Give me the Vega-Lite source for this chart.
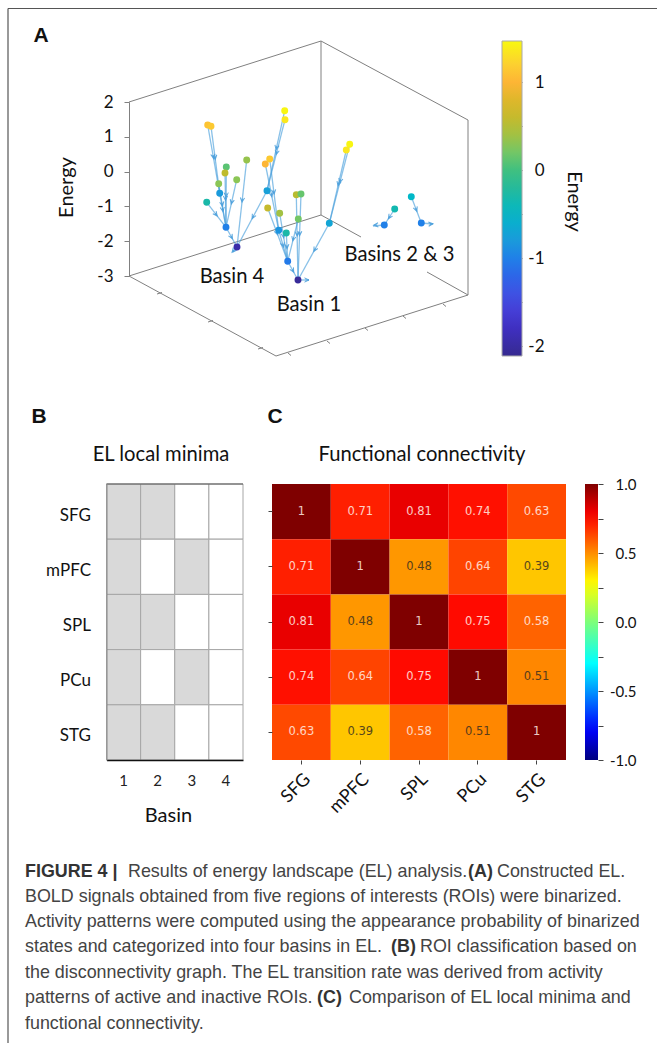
{
"$schema":"https://vega.github.io/schema/vega-lite/v6.json",
"width":657,"height":1043,"autosize":{"type":"none"},"padding":0,"background":"white",
"config":{"view":{"stroke":null},"font":"Lato"},
"datasets":{
"minima":[
{"roi":"SFG","basin":"1","active":"yes"},{"roi":"SFG","basin":"2","active":"yes"},{"roi":"SFG","basin":"3","active":"no"},{"roi":"SFG","basin":"4","active":"no"},
{"roi":"mPFC","basin":"1","active":"yes"},{"roi":"mPFC","basin":"2","active":"no"},{"roi":"mPFC","basin":"3","active":"yes"},{"roi":"mPFC","basin":"4","active":"no"},
{"roi":"SPL","basin":"1","active":"yes"},{"roi":"SPL","basin":"2","active":"yes"},{"roi":"SPL","basin":"3","active":"no"},{"roi":"SPL","basin":"4","active":"no"},
{"roi":"PCu","basin":"1","active":"yes"},{"roi":"PCu","basin":"2","active":"no"},{"roi":"PCu","basin":"3","active":"yes"},{"roi":"PCu","basin":"4","active":"no"},
{"roi":"STG","basin":"1","active":"yes"},{"roi":"STG","basin":"2","active":"yes"},{"roi":"STG","basin":"3","active":"no"},{"roi":"STG","basin":"4","active":"no"}],
"fc":[
{"a":"SFG","b":"SFG","r":1},{"a":"SFG","b":"mPFC","r":0.71},{"a":"SFG","b":"SPL","r":0.81},{"a":"SFG","b":"PCu","r":0.74},{"a":"SFG","b":"STG","r":0.63},
{"a":"mPFC","b":"SFG","r":0.71},{"a":"mPFC","b":"mPFC","r":1},{"a":"mPFC","b":"SPL","r":0.48},{"a":"mPFC","b":"PCu","r":0.64},{"a":"mPFC","b":"STG","r":0.39},
{"a":"SPL","b":"SFG","r":0.81},{"a":"SPL","b":"mPFC","r":0.48},{"a":"SPL","b":"SPL","r":1},{"a":"SPL","b":"PCu","r":0.75},{"a":"SPL","b":"STG","r":0.58},
{"a":"PCu","b":"SFG","r":0.74},{"a":"PCu","b":"mPFC","r":0.64},{"a":"PCu","b":"SPL","r":0.75},{"a":"PCu","b":"PCu","r":1},{"a":"PCu","b":"STG","r":0.51},
{"a":"STG","b":"SFG","r":0.63},{"a":"STG","b":"mPFC","r":0.39},{"a":"STG","b":"SPL","r":0.58},{"a":"STG","b":"PCu","r":0.51},{"a":"STG","b":"STG","r":1}],
"nodes":[
{"x":2.077,"y":1.25,"energy":1.1},{"x":2.11,"y":1.263,"energy":1.15},{"x":2.263,"y":1.67,"energy":0.1},{"x":2.25,"y":1.73,"energy":0.55},{"x":2.187,"y":1.837,"energy":0.3},{"x":2.197,"y":1.933,"energy":-0.8},{"x":2.067,"y":2.023,"energy":-0.3},{"x":2.467,"y":1.6,"energy":0.35},{"x":2.367,"y":1.797,"energy":0.3},{"x":2.26,"y":2.273,"energy":-1},{"x":2.37,"y":2.47,"energy":-1.95},{"x":2.67,"y":1.907,"energy":-0.75},{"x":2.847,"y":1.107,"energy":1.45},{"x":2.85,"y":1.197,"energy":1.35},
{"x":2.653,"y":1.64,"energy":1.0},{"x":2.697,"y":1.59,"energy":1.15},{"x":2.677,"y":2.08,"energy":0.6},{"x":2.797,"y":2.133,"energy":0.4},{"x":2.963,"y":1.947,"energy":0.5},{"x":3.01,"y":1.94,"energy":0.15},{"x":2.983,"y":2.19,"energy":0.2},{"x":2.863,"y":2.33,"energy":-0.3},{"x":2.787,"y":2.303,"energy":-0.85},{"x":2.877,"y":2.613,"energy":-1.05},{"x":2.98,"y":2.8,"energy":-2.05},{"x":3.293,"y":2.233,"energy":-0.7},{"x":3.497,"y":1.443,"energy":1.45},{"x":3.463,"y":1.5,"energy":1.35},
{"x":3.947,"y":2.09,"energy":-0.35},{"x":3.843,"y":2.25,"energy":-1},{"x":4.113,"y":1.967,"energy":-0.5},{"x":4.213,"y":2.23,"energy":-1}],
"edges":[
{"x":2.077,"y":1.25,"x2":2.197,"y2":1.933,"hx":2.131,"hy":1.557,"dir":170},
{"x":2.11,"y":1.263,"x2":2.197,"y2":1.933,"hx":2.149,"hy":1.565,"dir":173},
{"x":2.197,"y":1.933,"x2":2.26,"y2":2.273,"hx":2.225,"hy":2.086,"dir":170},
{"x":2.263,"y":1.67,"x2":2.26,"y2":2.273,"hx":2.262,"hy":1.941,"dir":180},
{"x":2.25,"y":1.73,"x2":2.26,"y2":2.273,"hx":2.255,"hy":1.974,"dir":179},
{"x":2.187,"y":1.837,"x2":2.26,"y2":2.273,"hx":2.22,"hy":2.033,"dir":170},
{"x":2.367,"y":1.797,"x2":2.26,"y2":2.273,"hx":2.319,"hy":2.011,"dir":193},
{"x":2.067,"y":2.023,"x2":2.26,"y2":2.273,"hx":2.154,"hy":2.136,"dir":142},
{"x":2.26,"y":2.273,"x2":2.37,"y2":2.47,"hx":2.31,"hy":2.362,"dir":151},
{"x":2.467,"y":1.6,"x2":2.37,"y2":2.47,"hx":2.423,"hy":1.992,"dir":186},
{"x":2.847,"y":1.107,"x2":2.67,"y2":1.907,"hx":2.767,"hy":1.467,"dir":192},
{"x":2.85,"y":1.197,"x2":2.67,"y2":1.907,"hx":2.769,"hy":1.517,"dir":194},
{"x":2.67,"y":1.907,"x2":2.37,"y2":2.47,"hx":2.535,"hy":2.16,"dir":208},
{"x":2.653,"y":1.64,"x2":2.787,"y2":2.303,"hx":2.713,"hy":1.938,"dir":169},
{"x":2.697,"y":1.59,"x2":2.787,"y2":2.303,"hx":2.738,"hy":1.911,"dir":173},
{"x":2.677,"y":2.08,"x2":2.877,"y2":2.613,"hx":2.767,"hy":2.32,"dir":159},
{"x":2.797,"y":2.133,"x2":2.877,"y2":2.613,"hx":2.833,"hy":2.349,"dir":171},
{"x":2.787,"y":2.303,"x2":2.877,"y2":2.613,"hx":2.828,"hy":2.443,"dir":164},
{"x":2.863,"y":2.33,"x2":2.877,"y2":2.613,"hx":2.869,"hy":2.457,"dir":177},
{"x":2.983,"y":2.19,"x2":2.877,"y2":2.613,"hx":2.935,"hy":2.38,"dir":194},
{"x":2.877,"y":2.613,"x2":2.98,"y2":2.8,"hx":2.923,"hy":2.697,"dir":151},
{"x":2.963,"y":1.947,"x2":2.98,"y2":2.8,"hx":2.971,"hy":2.331,"dir":179},
{"x":3.01,"y":1.94,"x2":2.98,"y2":2.8,"hx":2.997,"hy":2.327,"dir":182},
{"x":3.293,"y":2.233,"x2":2.98,"y2":2.8,"hx":3.152,"hy":2.488,"dir":209},
{"x":3.497,"y":1.443,"x2":3.293,"y2":2.233,"hx":3.405,"hy":1.799,"dir":194},
{"x":3.463,"y":1.5,"x2":3.293,"y2":2.233,"hx":3.387,"hy":1.83,"dir":193},
{"x":3.947,"y":2.09,"x2":3.843,"y2":2.25,"hx":3.9,"hy":2.162,"dir":213},
{"x":4.113,"y":1.967,"x2":4.213,"y2":2.23,"hx":4.158,"hy":2.085,"dir":159},
{"x":3.843,"y":2.25,"x2":3.73,"y2":2.26,"hx":3.767,"hy":2.25,"dir":265},
{"x":4.213,"y":2.23,"x2":4.33,"y2":2.24,"hx":4.3,"hy":2.24,"dir":85},
{"x":2.98,"y":2.8,"x2":3.09,"y2":2.8,"hx":3.06,"hy":2.8,"dir":90},
{"x":2.37,"y":2.47,"x2":2.33,"y2":2.52,"hx":2.34,"hy":2.5,"dir":220}],
"box":[
{"x":1.29,"y":1.02,"x2":3.21,"y2":0.41},{"x":3.21,"y":0.41,"x2":4.68,"y2":1.2},{"x":3.21,"y":0.41,"x2":3.21,"y2":2.15},{"x":4.68,"y":1.2,"x2":4.68,"y2":2.95},{"x":1.29,"y":2.76,"x2":3.21,"y2":2.15},{"x":3.21,"y":2.15,"x2":3.61,"y2":2.37},{"x":4.27,"y":2.72,"x2":4.68,"y2":2.95},{"x":1.29,"y":2.76,"x2":2.76,"y2":3.56},{"x":2.76,"y":3.56,"x2":4.68,"y2":2.95},
{"x":1.57,"y":2.94,"x2":1.62,"y2":2.925},{"x":2.08,"y":3.22,"x2":2.13,"y2":3.205},{"x":2.58,"y":3.49,"x2":2.63,"y2":3.475},
{"x":4.43,"y":3.04,"x2":4.46,"y2":3.065},{"x":4.03,"y":3.16,"x2":4.06,"y2":3.185},{"x":3.65,"y":3.28,"x2":3.68,"y2":3.305},{"x":3.27,"y":3.41,"x2":3.3,"y2":3.435},{"x":2.88,"y":3.53,"x2":2.91,"y2":3.555}],
"frame":[{"x":0.08,"y":0.085,"x2":6.57,"y2":0.085},{"x":0.08,"y":0.085,"x2":0.08,"y2":10.43},{"x":1.065,"y":4.84,"x2":2.43,"y2":4.84}],
"letters":[{"x":0.41,"y":0.36,"t":"A"},{"x":0.39,"y":4.17,"t":"B"},{"x":2.75,"y":4.17,"t":"C"}],
"labels":[{"x":2.32,"y":2.77,"t":"Basin 4"},{"x":3.09,"y":3.05,"t":"Basin 1"},{"x":3.995,"y":2.55,"t":"Basins 2 & 3"},{"x":1.61,"y":4.55,"t":"EL local minima"},{"x":4.22,"y":4.55,"t":"Functional connectivity"}],
"capReg":[
{"x":1.28,"y":8.72,"t":"Results of energy landscape (EL) analysis."},{"x":4.97,"y":8.72,"t":"Constructed EL."},
{"x":0.25,"y":8.97,"t":"BOLD signals obtained from five regions of interests (ROIs) were binarized."},
{"x":0.25,"y":9.22,"t":"Activity patterns were computed using the appearance probability of binarized"},
{"x":0.25,"y":9.47,"t":"states and categorized into four basins in EL."},{"x":4.2,"y":9.47,"t":"ROI classification based on"},
{"x":0.25,"y":9.73,"t":"the disconnectivity graph. The EL transition rate was derived from activity"},
{"x":0.25,"y":9.98,"t":"patterns of active and inactive ROIs."},{"x":3.49,"y":9.98,"t":"Comparison of EL local minima and"},
{"x":0.25,"y":10.24,"t":"functional connectivity."}],
"capBold":[{"x":0.25,"y":8.72,"t":"FIGURE 4 |"},{"x":4.68,"y":8.72,"t":"(A)"},{"x":3.91,"y":9.47,"t":"(B)"},{"x":3.17,"y":9.98,"t":"(C)"}],
"energyTicks":[{"v":-3},{"v":-2},{"v":-1},{"v":0},{"v":1},{"v":2}],
"cbTicks":[{"v":-1},{"v":1}]
},
"layer":[
{"data":{"name":"minima"},"mark":{"type":"rect","stroke":"#a6a6a6","strokeWidth":1},
 "encoding":{
  "x":{"field":"basin","type":"nominal","sort":["1","2","3","4"],"scale":{"domain":["1","2","3","4"],"range":[106.5,243],"paddingInner":0,"paddingOuter":0},
   "axis":{"orient":"bottom","offset":-283,"labelAngle":0,"ticks":false,"domainColor":"#111","domainWidth":1.5,"labelPadding":13,"labelFontSize":15,"labelColor":"#222","title":"Basin","titleFontSize":20,"titleFontWeight":"normal","titleColor":"#111","titleX":168,"titleY":55,"titleBaseline":"middle"}},
  "y":{"field":"roi","type":"nominal","sort":["SFG","mPFC","SPL","PCu","STG"],"scale":{"domain":["SFG","mPFC","SPL","PCu","STG"],"range":[484,760],"paddingInner":0,"paddingOuter":0},
   "axis":{"orient":"left","offset":-106.5,"ticks":false,"domainColor":"#888","labelPadding":16,"labelOffset":4,"labelFontSize":17,"labelColor":"#111","title":null}},
  "fill":{"field":"active","type":"nominal","scale":{"domain":["yes","no"],"range":["#d9d9d9","#ffffff"]},"legend":null}}},
{"data":{"name":"fc"},
 "encoding":{
  "x":{"field":"b","type":"nominal","sort":["SFG","mPFC","SPL","PCu","STG"],"scale":{"domain":["SFG","mPFC","SPL","PCu","STG"],"range":[272,566],"paddingInner":0,"paddingOuter":0},
   "axis":{"orient":"bottom","offset":-283,"domain":false,"tickSize":4,"tickColor":"#444","labelAngle":-45,"labelAlign":"right","labelBaseline":"top","labelPadding":6,"labelFontSize":18,"labelColor":"#111","title":null}},
  "y":{"field":"a","type":"nominal","sort":["SFG","mPFC","SPL","PCu","STG"],"scale":{"domain":["SFG","mPFC","SPL","PCu","STG"],"range":[484,760],"paddingInner":0,"paddingOuter":0},
   "axis":{"orient":"left","offset":-272,"domain":false,"tickSize":4,"tickColor":"#444","labels":false,"title":null}}},
 "layer":[
  {"mark":{"type":"rect"},"encoding":{"fill":{"field":"r","type":"quantitative","scale":{"interpolate":"rgb","domain":[-1,-0.78,-0.3,0,0.28,0.77,1],"range":["#00007f","#0000ff","#00ffff","#7dff7a","#ffff00","#ff0000","#7f0000"]},
    "legend":{"orient":"none","legendX":585,"legendY":484,"gradientLength":276,"gradientThickness":13,"title":null,"labelExpr":"''","gradientStrokeWidth":0,"padding":0}}}},
  {"mark":{"type":"text","font":"DejaVu Sans","fontSize":11.5,"opacity":0.85},"encoding":{"text":{"field":"r","type":"quantitative"},"color":{"condition":{"test":"datum.r<0.55","value":"#3a3020"},"value":"#ffeee6"}}}
 ]},
{"data":{"name":"cbTicks"},"mark":{"type":"rule","opacity":0},
 "encoding":{"y":{"field":"v","type":"quantitative","scale":{"domain":[-1,1],"range":[760,484],"nice":false,"zero":false},
  "axis":{"orient":"right","offset":-59,"domain":false,"tickSize":5,"tickColor":"#444","values":[-1,-0.75,-0.5,-0.25,0,0.25,0.5,0.75,1],"labelExpr":"datum.value*2%1==0?replace(format(datum.value,'.1f'),'\u2212','-'):''","labelAlign":"right","labelPadding":33,"labelFontSize":15,"labelColor":"#111","labelBound":false,"labelFlush":false,"labelOverlap":false,"grid":false,"title":null}}}},
{"data":{"name":"cbTicks"},"mark":{"type":"rule","opacity":0},
 "encoding":{"y":{"field":"v","type":"quantitative","scale":{"domain":[-2.11,1.466],"range":[356,41],"nice":false,"zero":false},
  "axis":{"orient":"right","offset":-135,"domain":false,"tickSize":-4,"tickColor":"#666","values":[-2,-1.5,-1,-0.5,0,0.5,1],"labelExpr":"datum.value%1==0?''+datum.value:''","labelAlign":"right","labelPadding":26,"labelFontSize":17,"labelColor":"#111","labelBound":false,"labelFlush":false,"labelOverlap":false,"grid":false,"title":"Energy","titleAngle":90,"titleFontSize":20,"titleFontWeight":"normal","titleColor":"#111","titleX":51,"titleY":201,"titleBaseline":"middle"}}}},
{"data":{"name":"energyTicks"},"mark":{"type":"rule","opacity":0},
 "encoding":{"y":{"field":"v","type":"quantitative","scale":{"domain":[-3,2],"range":[276,102],"nice":false,"zero":false},
  "axis":{"orient":"left","offset":-129,"domainColor":"#808080","tickColor":"#808080","tickSize":5,"values":[-3,-2,-1,0,1,2],"labelExpr":"''+datum.value","labelPadding":11,"labelFontSize":17,"labelColor":"#111","labelBound":false,"labelFlush":false,"grid":false,"title":"Energy","titleFontSize":20,"titleFontWeight":"normal","titleColor":"#111","titleX":-63,"titleY":187,"titleBaseline":"middle"}}}},
{"encoding":{
  "x":{"field":"x","type":"quantitative","scale":{"domain":[0,6.57],"range":[0,657],"nice":false,"zero":false},"axis":null},
  "y":{"field":"y","type":"quantitative","scale":{"domain":[0,10.43],"range":[0,1043],"nice":false,"zero":false},"axis":null}},
 "layer":[
  {"data":{"name":"frame"},"mark":{"type":"rule","color":"#555555","strokeWidth":1.2},"encoding":{"x2":{"field":"x2"},"y2":{"field":"y2"}}},
  {"data":{"name":"box"},"mark":{"type":"rule","color":"#808080","strokeWidth":1},"encoding":{"x2":{"field":"x2"},"y2":{"field":"y2"}}},
  {"data":{"name":"edges"},"mark":{"type":"rule","color":"#4a9fdc","opacity":0.65,"strokeWidth":1.3},"encoding":{"x2":{"field":"x2"},"y2":{"field":"y2"}}},
  {"data":{"name":"edges"},"mark":{"type":"point","filled":false,"shape":"M-0.7,0.5L0,-1L0.7,0.5M0,-1L0,0.2","stroke":"#4a9fdc","strokeWidth":1,"size":36,"opacity":0.9},"encoding":{"x":{"field":"hx","type":"quantitative"},"y":{"field":"hy","type":"quantitative"},"angle":{"field":"dir","type":"quantitative","scale":null}}},
  {"data":{"name":"nodes"},"mark":{"type":"circle","size":48,"opacity":1},"encoding":{"color":{"field":"energy","type":"quantitative","scale":{"interpolate":"rgb","domain":[-2.11,-1.75,-1.5,-1.25,-1,-0.75,-0.5,-0.25,0,0.25,0.5,0.75,1,1.2,1.466],"range":["#362a90","#4030c8","#4848e0","#3060e8","#2080e8","#18a0d8","#00b8c8","#20b8a0","#40c080","#80c860","#b8bc30","#d8b828","#fdb535","#fcd030","#f8f810"]},
    "legend":{"orient":"none","legendX":502,"legendY":41,"gradientLength":315,"gradientThickness":20,"title":null,"labelExpr":"''","gradientStrokeColor":"#aaaaaa","gradientStrokeWidth":1,"padding":0}}}},
  {"data":{"name":"letters"},"mark":{"type":"text","font":"Liberation Sans","fontWeight":"bold","fontSize":21,"align":"center","baseline":"middle","color":"#111"},"encoding":{"text":{"field":"t"}}},
  {"data":{"name":"labels"},"mark":{"type":"text","fontSize":20.2,"align":"center","baseline":"middle","color":"#111"},"encoding":{"text":{"field":"t"}}},
  {"data":{"name":"capReg"},"mark":{"type":"text","font":"Liberation Sans","fontSize":17.9,"align":"left","baseline":"middle","color":"#444444"},"encoding":{"text":{"field":"t"}}},
  {"data":{"name":"capBold"},"mark":{"type":"text","font":"Liberation Sans","fontWeight":"bold","fontSize":17.9,"align":"left","baseline":"middle","color":"#333333"},"encoding":{"text":{"field":"t"}}}
 ]}
],
"resolve":{"scale":{"x":"independent","y":"independent","color":"independent","fill":"independent"}}
}
